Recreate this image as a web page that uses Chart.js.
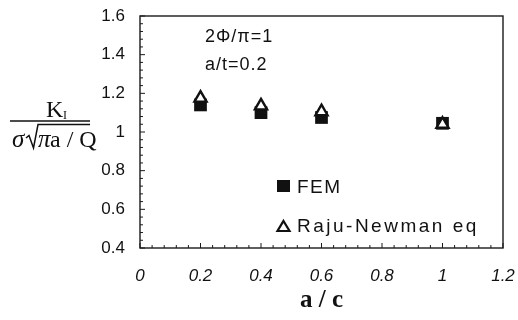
<!DOCTYPE html>
<html>
<head>
<meta charset="utf-8">
<script src="https://cdn.jsdelivr.net/npm/chart.js@4/dist/chart.umd.min.js"></script>
<style>
  html, body { margin: 0; padding: 0; background: #fff; }
  #wrap { width: 518px; height: 320px; }
</style>
</head>
<body>
<div id="wrap"><canvas id="kChart" width="518" height="320"></canvas></div>
<script>
// ── data ──
const aOverC     = [0.2, 0.4, 0.6, 1.0];
const femValues  = [1.14, 1.10, 1.075, 1.045];
const rajuValues = [1.175, 1.135, 1.105, 1.04];
const xTickVals  = [0, 0.2, 0.4, 0.6, 0.8, 1, 1.2];
const yTickVals  = [0.4, 0.6, 0.8, 1, 1.2, 1.4, 1.6];
const legendLabels = ['FEM', 'Raju-Newman eq'];
const noteLines  = ['2\u03A6/\u03C0=1', 'a/t=0.2'];

const SANS = '"Liberation Sans", Arial, sans-serif';
const SERIF = '"Liberation Serif", "Times New Roman", serif';

const toPts = (xs, ys) => xs.map((x, i) => ({ x: x, y: ys[i] }));

// inner tick marks, frame, notes, legend, y title
const decor = {
  id: 'decor',
  afterDraw(chart) {
    const { ctx, chartArea: a, scales: { x, y } } = chart;
    ctx.save();
    ctx.strokeStyle = '#1a1a1a';
    ctx.lineWidth = 1.4;
    ctx.strokeRect(a.left, a.top, a.right - a.left, a.bottom - a.top);

    // minor + major ticks pointing inward (5 per major step)
    ctx.lineWidth = 1;
    for (let i = 0; i <= 30; i++) {
      const px = x.getPixelForValue(i * 0.04);
      const len = i % 5 === 0 ? 5 : 3;
      ctx.beginPath(); ctx.moveTo(px, a.bottom); ctx.lineTo(px, a.bottom - len); ctx.stroke();
      const py = y.getPixelForValue(0.4 + i * 0.04);
      ctx.beginPath(); ctx.moveTo(a.left, py); ctx.lineTo(a.left + len, py); ctx.stroke();
    }

    // notes
    ctx.fillStyle = '#111';
    ctx.textBaseline = 'alphabetic';
    ctx.font = '18px ' + SANS;
    ctx.letterSpacing = '1px';
    ctx.fillText(noteLines[0], 205, 42);
    ctx.fillText(noteLines[1], 205, 70);

    // legend
    ctx.fillRect(277, 180, 13, 12);
    ctx.lineWidth = 2.2;
    ctx.strokeStyle = '#111';
    ctx.beginPath();
    ctx.moveTo(283.5, 221); ctx.lineTo(289.5, 231); ctx.lineTo(277.5, 231); ctx.closePath();
    ctx.stroke();
    ctx.font = '19px ' + SANS;
    ctx.letterSpacing = '1.5px';
    ctx.fillText(legendLabels[0], 297, 193);
    ctx.letterSpacing = '2.5px';
    ctx.fillText(legendLabels[1], 297, 232);
    ctx.letterSpacing = '0px';

    // y axis title:  K_I / (sigma sqrt(pi a / Q))
    ctx.font = '24px ' + SERIF;
    ctx.fillText('K', 46, 117);
    ctx.font = '12px ' + SERIF;
    ctx.fillText('I', 63, 119);
    ctx.lineWidth = 1.5;
    ctx.beginPath(); ctx.moveTo(10, 121); ctx.lineTo(90, 121); ctx.stroke();
    ctx.font = 'italic 25px ' + SERIF;
    ctx.fillText('\u03C3', 12, 147);
    ctx.beginPath();
    ctx.moveTo(26, 138); ctx.lineTo(29, 135.5); ctx.lineTo(33.5, 148);
    ctx.lineTo(38, 124.5); ctx.lineTo(90, 124.5);
    ctx.stroke();
    ctx.fillText('\u03C0', 38, 147);
    ctx.font = '24px ' + SERIF;
    ctx.fillText('a / Q', 50, 147);
    ctx.restore();
  }
};

new Chart(document.getElementById('kChart').getContext('2d'), {
  type: 'scatter',
  data: {
    datasets: [
      {
        label: legendLabels[1],
        data: toPts(aOverC, rajuValues),
        pointStyle: 'triangle', pointRadius: 7, pointHoverRadius: 7,
        backgroundColor: '#fff', borderColor: '#111', borderWidth: 2.4
      },
      {
        label: legendLabels[0],
        data: toPts(aOverC, femValues),
        pointStyle: 'rect', pointRadius: 9, pointHoverRadius: 9,
        backgroundColor: '#111', borderColor: '#111', borderWidth: 0
      }
    ]
  },
  options: {
    responsive: false,
    animation: false,
    layout: { padding: { left: 0, right: 15, top: 16, bottom: 0 } },
    plugins: { legend: { display: false }, tooltip: { enabled: false } },
    scales: {
      x: {
        type: 'linear', min: 0, max: 1.2,
        afterBuildTicks: s => { s.ticks = xTickVals.map(v => ({ value: v })); },
        afterFit: s => { s.height = 72; },
        grid: { display: true, drawOnChartArea: false, drawTicks: true, tickLength: 15, tickColor: 'rgba(0,0,0,0)' },
        border: { display: false },
        ticks: {
          padding: 3, color: '#111', maxRotation: 0,
          font: { family: SANS, size: 17, style: 'italic' },
          callback: v => String(v)
        },
        title: {
          display: true, text: 'a / c', color: '#111',
          font: { family: SERIF, size: 25, weight: 'bold' },
          padding: { top: 0, bottom: 4 }
        }
      },
      y: {
        type: 'linear', min: 0.4, max: 1.6,
        afterBuildTicks: s => { s.ticks = yTickVals.map(v => ({ value: v })); },
        afterFit: s => { s.width = 140; },
        grid: { display: true, drawOnChartArea: false, drawTicks: true, tickLength: 12, tickColor: 'rgba(0,0,0,0)' },
        border: { display: false },
        ticks: {
          padding: 3, color: '#111',
          font: { family: SANS, size: 17 },
          callback: v => String(v)
        }
      }
    }
  },
  plugins: [decor]
});
</script>
</body>
</html>
